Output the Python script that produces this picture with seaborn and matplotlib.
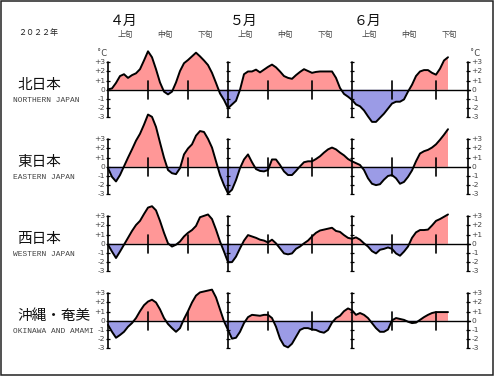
import numpy as np
import pandas as pd
import matplotlib
matplotlib.use('Agg')
import matplotlib.pyplot as plt
from matplotlib.patches import Rectangle
import seaborn as sns

# days counted from April 1 (day 0), 5-day running mean anomaly (degC)
days = np.arange(0, 86)

north = [0.05, 0.15, 0.75, 1.5, 1.7, 1.3, 1.6, 1.8, 2.25, 3.2,
         4.2, 3.55, 2.25, 0.8, -0.2, -0.5, -0.2, 0.8, 2.05, 2.9,
         3.25, 3.65, 4.05, 3.65, 3.2, 2.7, 1.85, 0.75, -0.4, -1.1,
         -2.0, -1.6, -1.2, 0.0, 1.7, 2.0, 2.0, 2.2, 1.9, 2.2,
         2.5, 2.75, 2.45, 2.0, 1.5, 1.3, 1.2, 1.6, 1.95, 2.25,
         2.05, 1.85, 1.95, 2.0, 2.0, 2.0, 2.0, 1.3, 0.2, -0.45,
         -0.75, -1.1, -1.6, -1.8, -2.25, -2.9, -3.5, -3.5, -3.05, -2.6,
         -2.05, -1.5, -1.3, -1.3, -1.05, -0.2, 0.55, 1.5, 2.0, 2.15,
         2.15, 1.85, 1.65, 2.3, 3.2, 3.55]

east = [-0.15, -1.1, -1.6, -0.9, 0.05, 1.0, 1.9, 2.85, 3.6, 4.6,
        5.7, 5.45, 4.35, 2.65, 1.0, -0.35, -0.7, -0.8, -0.15, 1.35,
        2.0, 2.45, 3.4, 3.9, 3.8, 3.05, 2.1, 0.6, -0.9, -2.0,
        -2.9, -2.5, -1.45, -0.15, 0.8, 1.35, 0.5, -0.25, -0.45, -0.5,
        -0.35, 0.8, 0.8, 0.2, -0.5, -0.9, -0.9, -0.45, 0.05, 0.5,
        0.6, 0.6, 0.85, 1.15, 1.55, 1.9, 2.1, 1.9, 1.55, 1.25,
        0.85, 0.6, 0.4, 0.2, -0.35, -1.25, -1.85, -2.0, -1.9, -1.4,
        -1.0, -0.9, -1.25, -1.85, -1.65, -1.1, -0.4, 0.6, 1.45, 1.7,
        1.85, 2.1, 2.45, 2.95, 3.5, 4.1]

west = [-0.1, -0.85, -1.55, -0.85, -0.1, 0.65, 1.4, 2.05, 2.5, 3.25,
        3.95, 4.1, 3.65, 2.5, 1.2, 0.05, -0.3, -0.1, 0.25, 0.8,
        1.2, 1.5, 1.95, 2.9, 3.05, 3.2, 2.7, 1.55, 0.25, -0.85,
        -2.0, -2.0, -1.4, -0.5, 0.35, 0.95, 0.8, 0.65, 0.45, 0.35,
        0.15, 0.45, 0.05, -0.5, -1.05, -1.15, -1.05, -0.55, -0.3, 0.05,
        0.35, 0.8, 1.2, 1.45, 1.55, 1.65, 1.75, 1.4, 1.3, 0.95,
        0.65, 0.55, 0.7, 0.45, 0.05, -0.3, -0.8, -1.05, -0.65, -0.55,
        -0.4, -0.55, -1.05, -1.3, -0.85, -0.3, 0.65, 1.25, 1.5, 1.5,
        1.55, 2.0, 2.5, 2.7, 2.95, 3.2]

okinawa = [-0.45, -1.2, -1.85, -1.55, -1.2, -0.65, -0.25, 0.3, 1.05, 1.7,
           2.1, 2.3, 2.0, 1.25, 0.3, -0.35, -0.8, -1.2, -0.8, 0.2,
           1.05, 2.0, 2.75, 3.1, 3.2, 3.3, 3.4, 2.55, 1.25, -0.05,
           -1.0, -1.95, -1.85, -1.2, -0.25, 0.4, 0.65, 0.6, 0.55, 0.65,
           0.65, 0.3, -0.65, -1.95, -2.7, -2.9, -2.5, -1.75, -1.0, -0.8,
           -0.8, -0.95, -1.0, -1.2, -1.3, -1.0, -0.2, 0.3, 0.55, 1.05,
           1.35, 1.15, 0.65, 0.85, 0.65, 0.3, -0.25, -0.8, -1.2, -1.2,
           -0.95, 0.05, 0.3, 0.2, 0.1, -0.1, -0.25, -0.2, 0.1, 0.4,
           0.65, 0.85, 0.95, 0.95, 0.95, 0.95]

regions = ['北日本', '東日本', '西日本', '沖縄・奄美']
regions_en = ['NORTHERN JAPAN', 'EASTERN JAPAN', 'WESTERN JAPAN', 'OKINAWA AND AMAMI']
series = [north, east, west, okinawa]
months = ['４月', '５月', '６月']
month_start = [0, 30, 61]
dekads = ['上旬', '中旬', '下旬']
yticks = [3, 2, 1, 0, -1, -2, -3]
ytick_labels = ['+3', '+2', '+1', '0', '-1', '-2', '-3']

RED = '#ff9797'
BLUE = '#9b9be6'
GRAY = '#444444'

sns.set_style('white')
plt.rcParams['font.family'] = ['Noto Sans CJK JP', 'DejaVu Sans']

W, H = 496, 377
fig = plt.figure(figsize=(W / 100, H / 100), dpi=100)

def px(x, y):
    return x / W, 1 - y / H

axes = []
for i, (name, name_en, vals) in enumerate(zip(regions, regions_en, series)):
    top = 62.3 + 77 * i
    ax = fig.add_axes([108 / W, 1 - (top + 55) / H, 360 / W, 55 / H])
    ax.patch.set_alpha(0)
    axes.append(ax)

    df = pd.DataFrame({'day': days, 'anom': vals})
    y = df['anom'].values
    ax.fill_between(df['day'], y, 0, where=y >= 0, interpolate=True,
                    color=RED, lw=0, clip_on=False)
    ax.fill_between(df['day'], y, 0, where=y <= 0, interpolate=True,
                    color=BLUE, lw=0, clip_on=False)
    ax.plot([0, 90.5], [0, 0], color='black', lw=1.0, clip_on=False)
    sns.lineplot(data=df, x='day', y='anom', ax=ax, color='black', lw=1.4,
                 clip_on=False, legend=False)
    ax.set_xlim(0, 90)
    ax.set_ylim(-3, 3)
    ax.axis('off')

    # month axes (full height with unit ticks)
    for xm in [0, 30, 61, 90]:
        ax.plot([xm, xm], [-3, 3], color='black', lw=1.2, clip_on=False)
        ax.hlines(yticks, xm - 0.6, xm + 0.6, color='black', lw=0.9, clip_on=False)
    # dekad markers
    for xm in [10, 20, 40, 51, 71, 82]:
        ax.plot([xm, xm], [-1, 1], color='black', lw=1.2, clip_on=False)

    for yv, lab in zip(yticks, ytick_labels):
        ax.text(-0.8, yv, lab, ha='right', va='center', fontsize=5.4,
                color=GRAY, family='DejaVu Sans')
        ax.text(90.8, yv, lab, ha='left', va='center', fontsize=5.4,
                color=GRAY, family='DejaVu Sans')

    fig.text(*px(17, 85 + 77 * i), name, ha='left', va='center',
             fontsize=10.5, color='#111111')
    fig.text(*px(13, 100.6 + 77 * i), name_en, ha='left', va='center',
             fontsize=5.7, color=GRAY, family='Liberation Mono')

ax1 = axes[0]
ax1.text(-1.5, 3.95, '˚C', ha='center', va='center', fontsize=6, color=GRAY,
         family='DejaVu Sans')
ax1.text(91.8, 3.95, '˚C', ha='center', va='center', fontsize=6, color=GRAY,
         family='DejaVu Sans')

for m, xs in zip(months, month_start):
    ax1.text(xs + 4, 7.5, m, ha='center', va='center', fontsize=10,
             color='#111111', clip_on=False)
    for k, d in enumerate(dekads):
        ax1.text(xs + 4.3 + 10 * k, 6.0, d, ha='center', va='center',
                 fontsize=5.6, color=GRAY, clip_on=False)

fig.text(*px(38, 33), '２０２２年', ha='center', va='center', fontsize=5.8,
         color='#222222')

fig.patches.append(Rectangle((0.5 / W, 1 - 374.5 / H), 492 / W, 374 / H,
                             transform=fig.transFigure, fill=False,
                             ec='#222222', lw=1.1))

fig.savefig('out.png', dpi=100)
